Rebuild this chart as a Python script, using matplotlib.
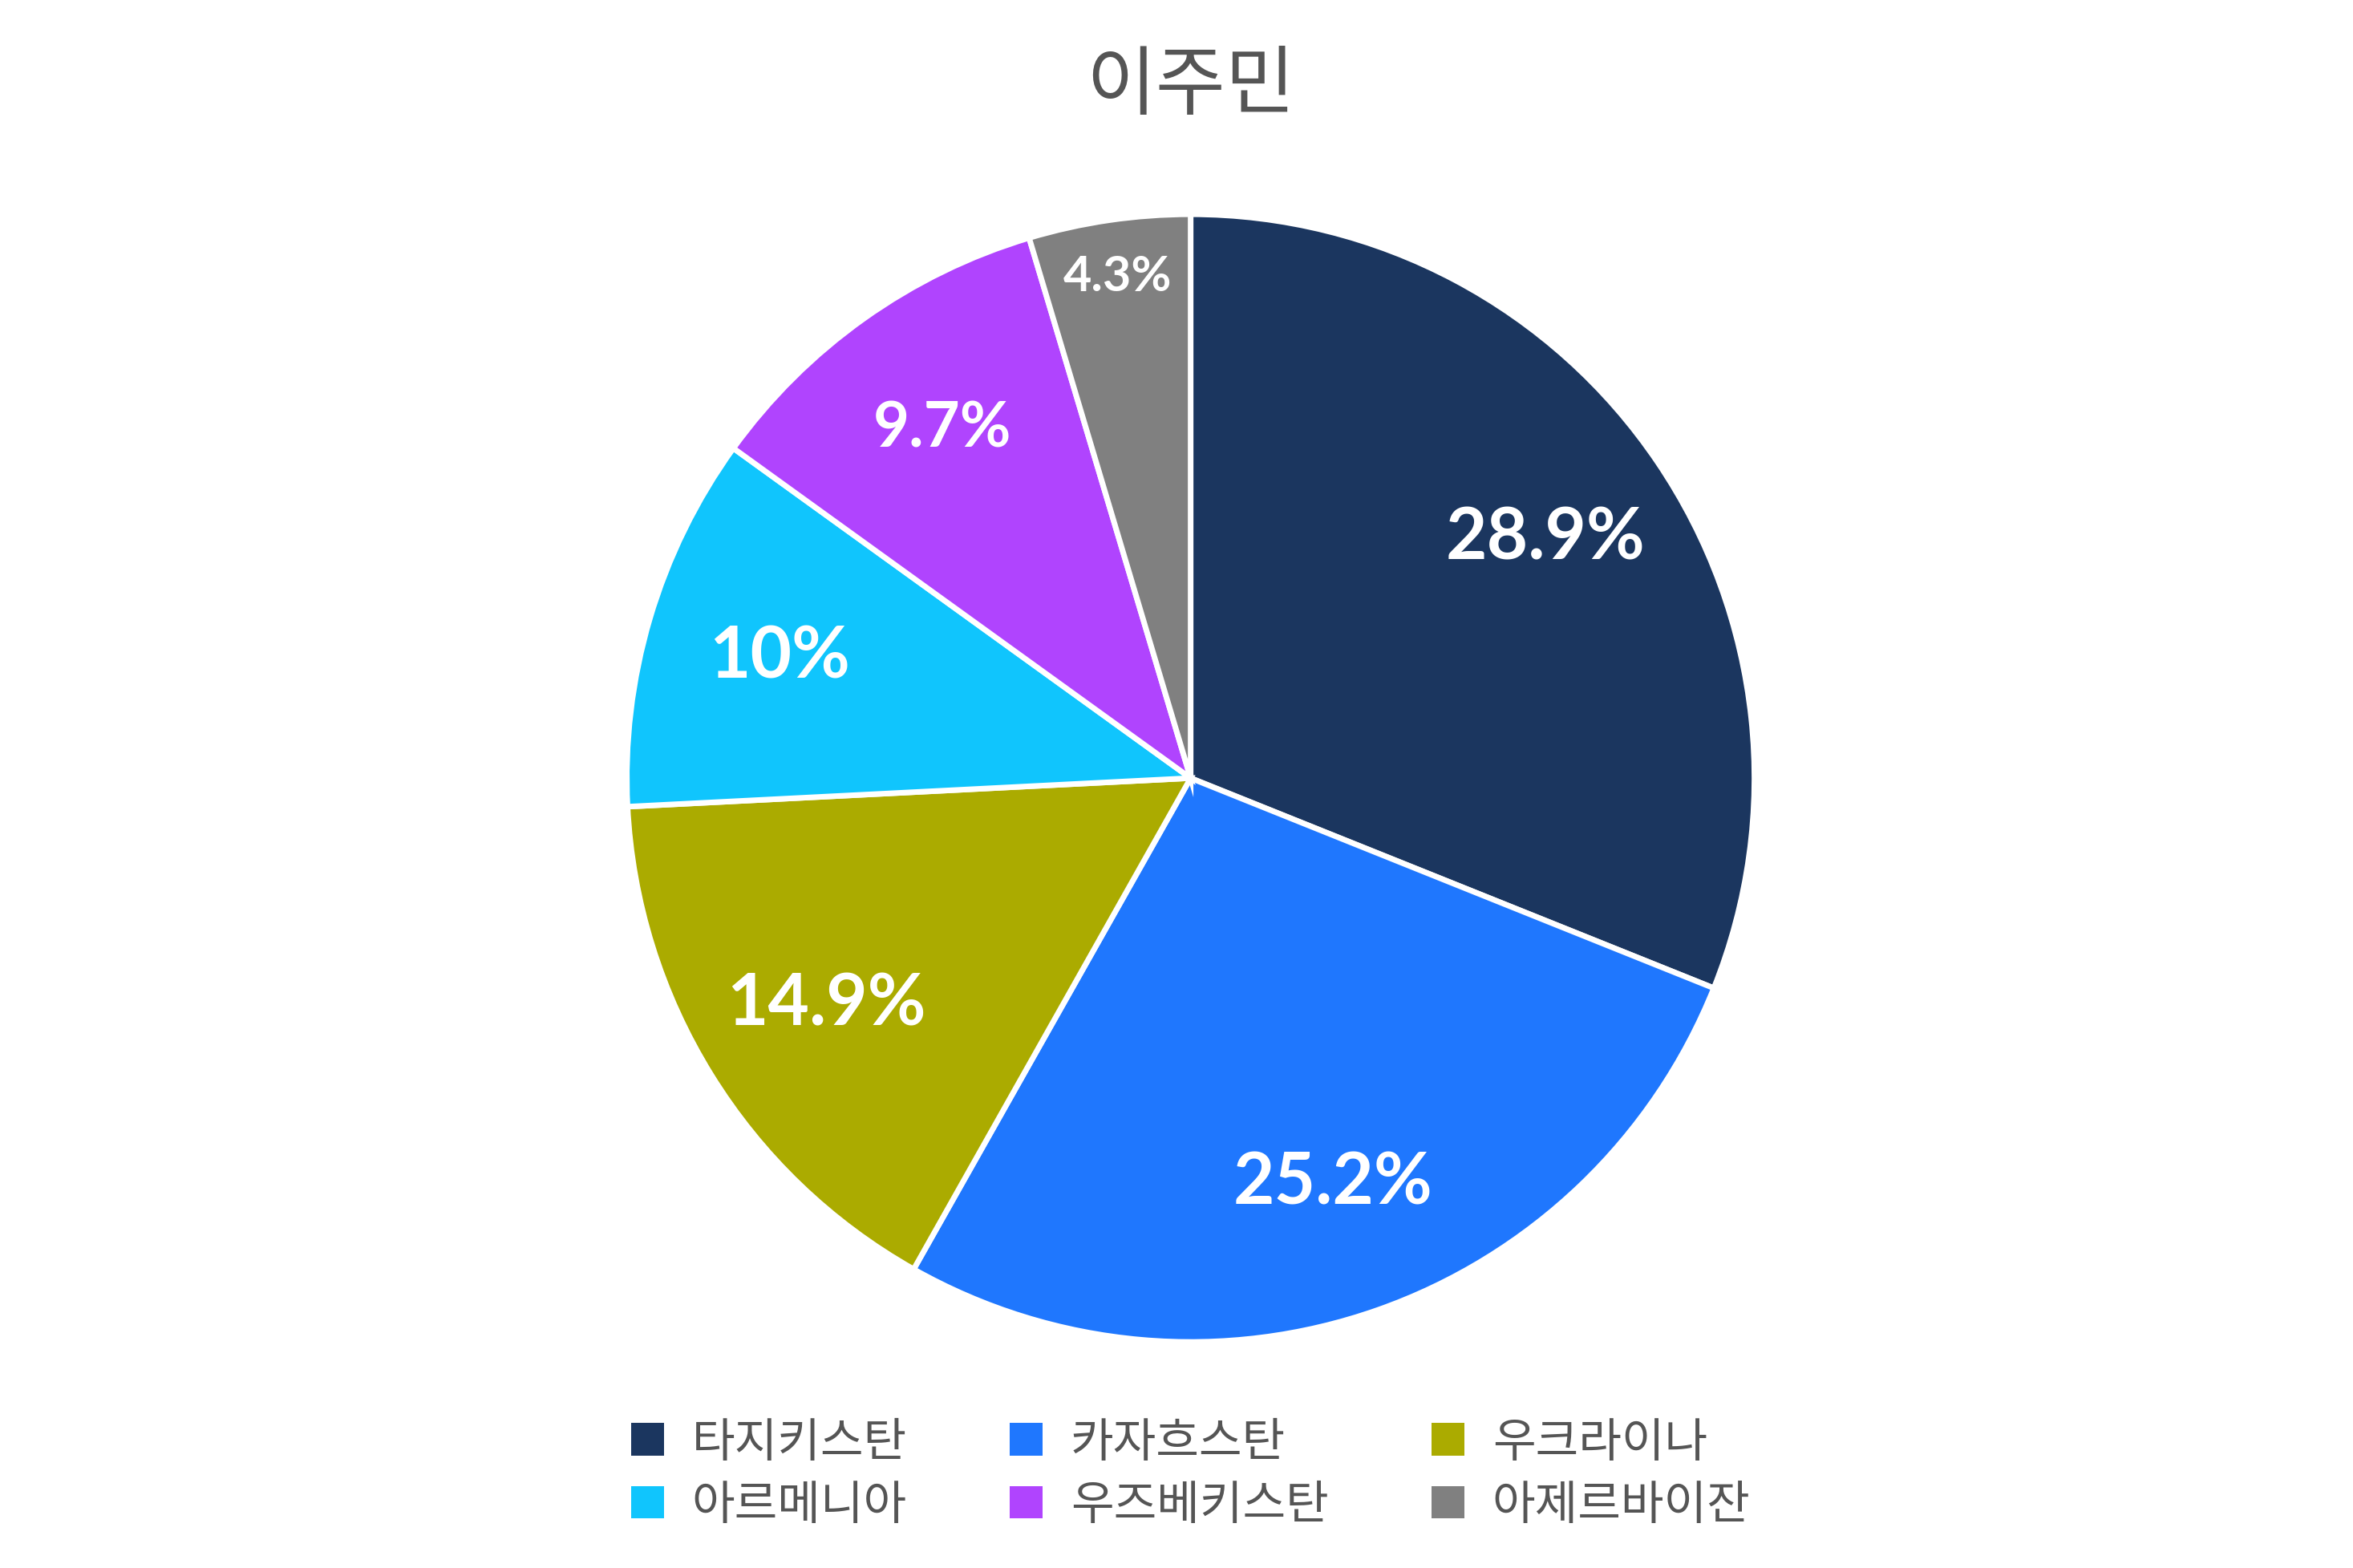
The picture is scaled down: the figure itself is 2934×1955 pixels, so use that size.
import matplotlib
matplotlib.use("Agg")
import matplotlib.pyplot as plt
from matplotlib.patches import Patch
import numpy as np

categories = ["타지키스탄", "카자흐스탄", "우크라이나", "아르메니아", "우즈베키스탄", "아제르바이잔"]
values = [28.9, 25.2, 14.9, 10.0, 9.7, 4.3]
labels = ["28.9%", "25.2%", "14.9%", "10%", "9.7%", "4.3%"]
colors = ["#1b365f", "#1f77fe", "#abab00", "#10c5fd", "#b044fe", "#808080"]
sizes = [32, 32, 32, 32, 28, 22]

plt.rcParams['font.family'] = ['Noto Sans CJK KR', 'DejaVu Sans']
fig = plt.figure(figsize=(14.67, 9.78), dpi=200)
ax = fig.add_axes([0.264, 0.14, 0.484, 0.727])
wedges, _ = ax.pie(values, colors=colors, startangle=90, counterclock=False,
                   wedgeprops=dict(edgecolor="white", linewidth=2.5))
for w, lab, s in zip(wedges, labels, sizes):
    ang = np.deg2rad((w.theta1 + w.theta2) / 2)
    r = 0.76 if s != 22 else 0.9
    ax.text(r*np.cos(ang), r*np.sin(ang), lab, ha="center", va="center",
            color="white", fontsize=s, fontweight="bold", family=["Lato", "DejaVu Sans"])
ax.set_aspect("equal")
ax.set_xlim(-1.01, 1.01)
ax.set_ylim(-1.01, 1.01)
fig.text(0.506, 0.945, "이주민", ha="center", va="center", fontsize=34, color="#555555")
order = [0, 3, 1, 4, 2, 5]
handles = [Patch(facecolor=colors[i], label=categories[i]) for i in order]
fig.legend(handles=handles, loc="center", bbox_to_anchor=(0.506, 0.06), ncol=3, frameon=False,
           fontsize=21, labelcolor="#555555", handlelength=0.7, handleheight=0.7,
           columnspacing=2.2, handletextpad=0.6, labelspacing=0.3)
fig.savefig("out.png", dpi=200)
